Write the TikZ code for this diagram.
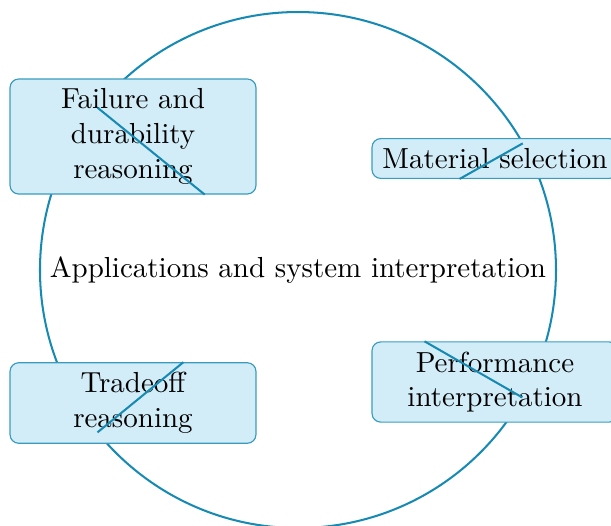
\documentclass[tikz,border=0pt]{standalone}

\definecolor{ringblue}{RGB}{22,138,178}
\definecolor{boxfill}{RGB}{210,237,248}

\begin{document}
\begin{tikzpicture}[x=0.3448pt, y=0.3448pt,
  ring/.style={draw=ringblue, line width=0.7pt},
  stage/.style={draw=ringblue!85, fill=boxfill, thin, rounded corners=3pt,
    minimum width=84.8pt, inner sep=3.33pt, align=center}]

\useasboundingbox (-298,-255) rectangle (313,270);

\draw[ring] (0,0) circle[radius=258];

\node (hub) at (0,0) {Applications and system interpretation};

\node[stage] (fail)  at (-165,133.5) {Failure and\\durability\\reasoning};
\node[stage] (mat)   at (197,111.5)  {Material selection};
\node[stage] (trade) at (-165,-133)  {Tradeoff\\reasoning};
\node[stage] (perf)  at (197,-112)   {Performance\\interpretation};

\coordinate (p1) at (141:258);
\coordinate (p2) at (29.4:258);
\coordinate (p3) at (219:258);
\coordinate (p4) at (-29.6:258);

\draw[ring] (p1) -- (fail.-39);
\draw[ring] (p2) -- (mat.210);
\draw[ring] (p3) -- (trade.39);
\draw[ring] (p4) -- (perf.150);

\end{tikzpicture}
\end{document}
